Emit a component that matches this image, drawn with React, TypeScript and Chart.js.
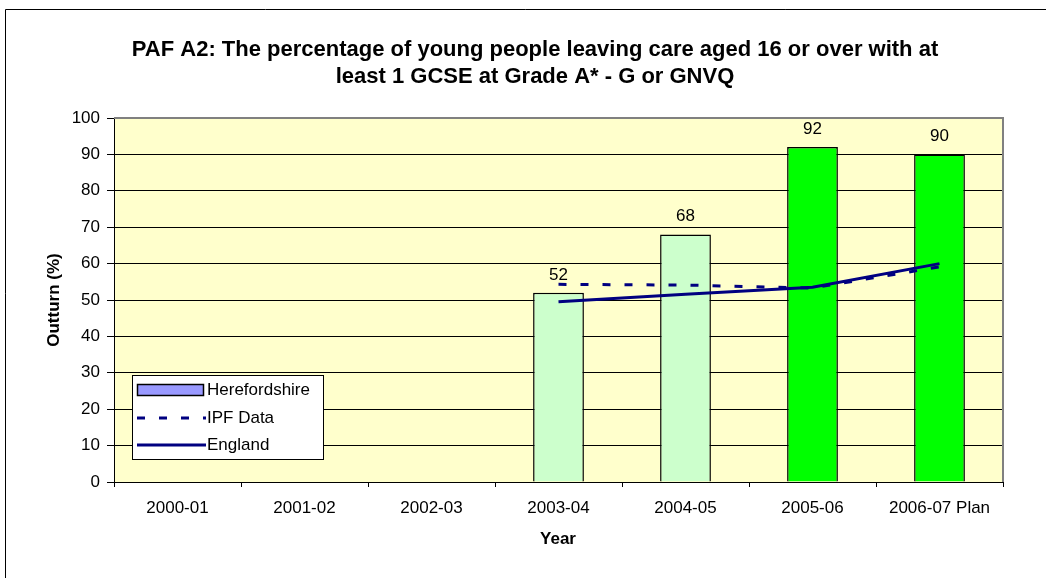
import React, { useEffect, useRef } from "react";
import { Chart, registerables } from "chart.js";

Chart.register(...registerables);

const categories = ["2000-01", "2001-02", "2002-03", "2003-04", "2004-05", "2005-06", "2006-07 Plan"];
const herefordshire = [null, null, null, 52, 68, 92, 90];
const ipfData = [null, null, null, 54.3, 54.1, 53.3, 59.1];
const england = [null, null, null, 49.5, 51.6, 53.5, 60];
const barColors = ["#CCFFCC", "#CCFFCC", "#CCFFCC", "#CCFFCC", "#CCFFCC", "#00FF00", "#00FF00"];
const yTicks = [0, 10, 20, 30, 40, 50, 60, 70, 80, 90, 100];
const titleLines = [
  "PAF A2: The percentage of young people leaving care aged 16 or over with at",
  "least 1 GCSE at Grade A* - G or GNVQ",
];

const FONT = "'Liberation Sans', Arial, sans-serif";

const decorPlugin = {
  id: "decor",
  beforeDraw(chart: any) {
    const { ctx, chartArea: a } = chart;
    ctx.save();
    ctx.fillStyle = "#FFFFFF";
    ctx.fillRect(0, 0, chart.width, chart.height);
    ctx.fillStyle = "#FFFFCC";
    ctx.fillRect(a.left, a.top, a.right - a.left, a.bottom - a.top);
    ctx.restore();
  },
  afterDatasetsDraw(chart: any) {
    const { ctx } = chart;
    const meta = chart.getDatasetMeta(0);
    ctx.save();
    ctx.fillStyle = "#000";
    ctx.font = `17px ${FONT}`;
    ctx.textAlign = "center";
    ctx.textBaseline = "alphabetic";
    meta.data.forEach((bar: any, i: number) => {
      const v = herefordshire[i];
      if (v == null) return;
      ctx.fillText(String(v), bar.x, bar.y - 13);
    });
    ctx.restore();
  },
  afterDraw(chart: any) {
    const { ctx, chartArea: a } = chart;
    ctx.save();
    // outer frame
    ctx.strokeStyle = "#000";
    ctx.lineWidth = 1;
    ctx.beginPath();
    ctx.moveTo(5.5, 578);
    ctx.lineTo(5.5, 9.5);
    ctx.lineTo(1046, 9.5);
    ctx.stroke();
    // plot area top/right border
    ctx.strokeStyle = "#808080";
    ctx.lineWidth = 2;
    ctx.beginPath();
    ctx.moveTo(a.left, a.top);
    ctx.lineTo(a.right, a.top);
    ctx.lineTo(a.right, a.bottom);
    ctx.stroke();
    // title
    ctx.fillStyle = "#000";
    ctx.font = `bold 22px ${FONT}`;
    ctx.textAlign = "center";
    ctx.textBaseline = "alphabetic";
    ctx.fillText(titleLines[0], 535, 56);
    ctx.fillText(titleLines[1], 535, 83);
    // axis titles
    ctx.font = `bold 17px ${FONT}`;
    ctx.fillText("Year", 558, 544);
    ctx.save();
    ctx.translate(59, 300);
    ctx.rotate(-Math.PI / 2);
    ctx.textBaseline = "alphabetic";
    ctx.fillText("Outturn (%)", 0, 0);
    ctx.restore();
    // legend
    const lx = 132, ly = 375, lw = 191, lh = 84;
    ctx.fillStyle = "#FFFFFF";
    ctx.fillRect(lx, ly, lw, lh);
    ctx.strokeStyle = "#000";
    ctx.lineWidth = 1;
    ctx.strokeRect(lx + 0.5, ly + 0.5, lw, lh);
    // Herefordshire swatch
    ctx.fillStyle = "#9999FF";
    ctx.fillRect(137.5, 384.5, 66, 11);
    ctx.strokeStyle = "#000";
    ctx.lineWidth = 1.5;
    ctx.strokeRect(137.5, 384.5, 66, 11);
    // IPF dashed
    ctx.strokeStyle = "#000080";
    ctx.lineWidth = 3;
    ctx.setLineDash([8, 14]);
    ctx.beginPath();
    ctx.moveTo(137, 418);
    ctx.lineTo(206, 418);
    ctx.stroke();
    ctx.setLineDash([]);
    // England solid
    ctx.beginPath();
    ctx.moveTo(137, 445);
    ctx.lineTo(206, 445);
    ctx.stroke();
    ctx.fillStyle = "#000";
    ctx.font = `17px ${FONT}`;
    ctx.textAlign = "left";
    ctx.textBaseline = "middle";
    const labels = chart.data.datasets.map((d: any) => d.label);
    ctx.fillText(labels[0], 207, 390);
    ctx.fillText(labels[1], 207, 418);
    ctx.fillText(labels[2], 207, 445);
    ctx.restore();
  },
};

export default function App() {
  const ref = useRef<HTMLCanvasElement | null>(null);
  useEffect(() => {
    if (!ref.current) return;
    const chart = new Chart(ref.current, {
      type: "bar",
      data: {
        labels: categories,
        datasets: [
          {
            type: "bar",
            label: "Herefordshire",
            data: herefordshire as any,
            backgroundColor: barColors,
            borderColor: "#000",
            borderWidth: 1.5,
            barPercentage: 0.4,
            categoryPercentage: 1,
            order: 3,
          },
          {
            type: "line",
            label: "IPF Data",
            data: ipfData as any,
            borderColor: "#000080",
            borderWidth: 3,
            borderDash: [8, 14],
            pointRadius: 0,
            tension: 0,
            fill: false,
            order: 2,
          },
          {
            type: "line",
            label: "England",
            data: england as any,
            borderColor: "#000080",
            borderWidth: 3,
            pointRadius: 0,
            tension: 0,
            fill: false,
            order: 1,
          },
        ],
      },
      options: {
        responsive: false,
        animation: false,
        layout: { padding: { left: 0, top: 118, right: 43, bottom: 0 } },
        plugins: {
          legend: { display: false },
          title: { display: false },
          tooltip: { enabled: false },
        },
        scales: {
          x: {
            type: "category",
            offset: true,
            grid: {
              offset: true,
              drawOnChartArea: false,
              drawTicks: true,
              tickLength: 5,
              color: "#000",
            },
            border: { color: "#000", width: 1 },
            ticks: { color: "#000", font: { family: FONT, size: 17 }, padding: 11, maxRotation: 0, autoSkip: false },
            afterFit: (s: any) => {
              s.height = 96;
            },
          },
          y: {
            min: 0,
            max: 100,
            afterBuildTicks: (s: any) => {
              s.ticks = yTicks.map((v) => ({ value: v }));
            },
            grid: { color: "#000", lineWidth: 1, tickLength: 7 },
            border: { color: "#000", width: 1 },
            ticks: { color: "#000", font: { family: FONT, size: 17 }, padding: 7 },
            afterFit: (s: any) => {
              s.width = 114;
            },
          },
        },
      },
      plugins: [decorPlugin],
    });
    return () => chart.destroy();
  }, []);
  return (
    <div style={{ position: "absolute", left: 0, top: 0, width: 1046, height: 578 }}>
      <canvas ref={ref} width={1046} height={578} style={{ display: "block" }} />
    </div>
  );
}
